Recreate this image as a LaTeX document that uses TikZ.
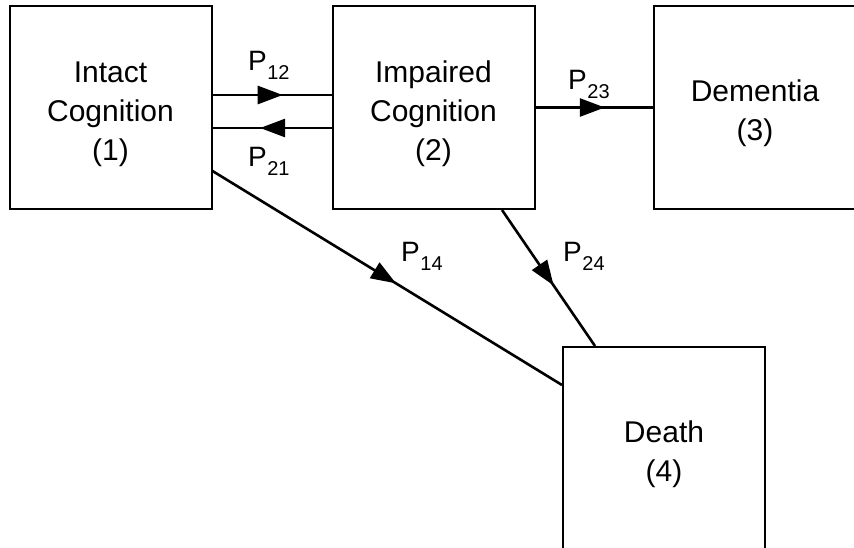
\documentclass[tikz,border=0pt]{standalone}
\usepackage{fontspec}
\setmainfont{Liberation Sans}
\usetikzlibrary{arrows.meta,positioning,calc,decorations.markings}

\newcommand{\rt}[1]{P\hspace{0.5pt}\raisebox{-9pt}{\fontsize{20}{20}\selectfont #1}}
\newcommand{\boxtop}{\rule{0pt}{33.5pt}}

\begin{document}
\begin{tikzpicture}[x=1pt, y=-1pt,
    state/.style={draw, line width=2pt, minimum width=202pt, minimum height=203pt,
      align=center, inner sep=0pt, font=\fontsize{30}{39}\selectfont},
    flow/.style={line width=2.6pt, decoration={markings,
      mark=at position #1 with {\arrow{Triangle[length=25pt,width=18pt]}}},
      postaction={decorate}},
    rate/.style={anchor=base west, inner sep=0pt, font=\fontsize{28}{34}\selectfont}]
  \useasboundingbox (0,0) rectangle (854,547);
  \clip (0,0) rectangle (854,547);
  \node[state] (intact)   at (110.5,107.5) {\boxtop Intact\\Cognition\\(1)};
  \node[state] (impaired) at (433.5,107.5) {\boxtop Impaired\\Cognition\\(2)};
  \node[state] (dementia) at (755,107.5)   {\boxtop Dementia\\(3)};
  \node[state] (death)    at (664,448.5)   {\boxtop Death\\(4)};
  % transitions
  \draw[flow=0.59] ([yshift=12.5pt]intact.east) -- ([yshift=12.5pt]impaired.west);
  \draw[flow=0.6] ([yshift=-20.5pt]impaired.west) -- ([yshift=-20.5pt]intact.east);
  \draw[flow=0.59] (impaired.east) -- (dementia.west);
  \draw[flow=0.525] ([yshift=39pt]intact.south east) -- ([yshift=-39pt]death.north west);
  \draw[flow=0.555] ([xshift=68.5pt]impaired.south) -- ([xshift=-69pt]death.north);
  % rate labels
  \node[rate] (p12) at (248,70)  {\rt{12}};
  \node[rate] (p21) at (248,166) {\rt{21}};
  \node[rate] (p23) at (568,89)  {\rt{23}};
  \node[rate] (p14) at (401,261) {\rt{14}};
  \node[rate] (p24) at (563,261) {\rt{24}};
\end{tikzpicture}
\end{document}
